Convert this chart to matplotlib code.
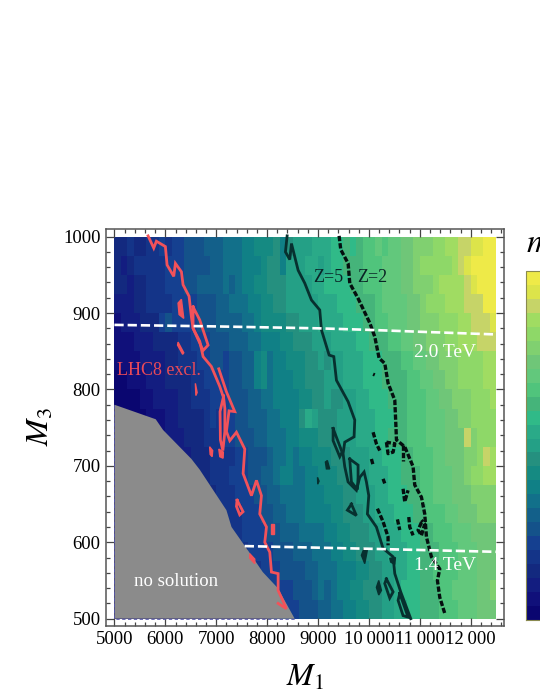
import matplotlib
matplotlib.use('Agg')
import matplotlib.pyplot as plt
import numpy as np
from matplotlib.colors import ListedColormap, BoundaryNorm
from matplotlib.patches import Polygon

plt.rcParams['font.family'] = ['Liberation Serif', 'DejaVu Sans']
plt.rcParams['mathtext.fontset'] = 'stix'

# colour bands of the legend, bottom to top
band_colors = ['#0a0670', '#10107a', '#131d80', '#13297f', '#143488', '#154090', '#14528a',
               '#13608a', '#12708a', '#108086', '#158a82', '#25907f', '#24a086', '#2aaa88',
               '#30ba88', '#45b47a', '#50c47c', '#62c87c', '#6fc678', '#80d070', '#8ed868',
               '#a0dc62', '#c6d468', '#dce44a', '#eeea48']

# cell edges
m1_edges = list(range(5000, 12501, 125))
m3_edges = list(range(500, 1001, 25))

# band number of each cell, top row (M3 975-1000) first
levels = [
    [3,3,4,3,3,4,4,5,4,5, 5,6,6,6,7,7,7,8,8,8, 9,9,10,10,10,11,9,11,12,12, 12,13,13,13,14,14,15,14,15,16, 16,17,16,17,17,18,18,19,19,19, 20,20,21,21,22,22,23,23,24,24],
    [3,2,3,4,4,4,4,4,5,5, 5,6,6,6,6,7,7,8,8,8, 9,9,9,10,11,11,9,12,12,12, 13,13,12,13,14,14,15,15,15,16, 16,16,17,17,17,18,18,19,20,20, 20,20,20,21,22,23,24,24,24,24],
    [3,3,2,3,3,4,4,4,5,5, 5,6,6,7,7,7,7,8,7,8, 9,9,10,10,11,11,11,12,12,12, 12,13,13,14,14,14,14,15,15,16, 16,16,17,17,17,18,18,19,19,19, 20,21,21,21,21,22,23,24,24,24],
    [2,2,2,3,3,4,4,4,4,5, 5,5,5,6,6,6,7,7,8,8, 8,9,9,10,10,11,11,12,12,12, 12,12,13,13,13,14,14,14,15,15, 15,16,17,17,17,17,18,18,19,20, 20,20,21,21,21,22,22,22,24,24],
    [1,2,2,2,3,3,3,5,6,5, 5,5,5,6,6,6,7,7,7,7, 8,8,9,10,10,10,10,11,11,12, 12,12,13,13,13,13,14,14,14,15, 15,16,16,17,17,17,18,18,19,19, 19,20,20,20,21,21,22,22,22,23],
    [1,1,1,2,2,2,3,3,3,3, 4,4,5,5,5,6,6,6,7,7, 7,8,8,9,9,9,10,10,11,11, 11,12,12,12,13,13,13,13,14,14, 15,15,15,16,16,17,17,18,18,19, 19,19,20,20,21,21,21,22,22,22],
    [1,1,1,1,2,2,2,2,3,3, 4,4,4,5,5,6,6,5,6,6, 7,7,9,10,8,9,9,10,10,10, 11,11,12,11,12,12,13,13,13,14, 14,14,15,15,15,16,16,17,17,18, 18,19,19,19,20,20,20,20,21,21],
    [0,0,1,1,1,2,2,2,3,3, 3,3,4,4,5,5,5,5,6,6, 7,7,9,10,8,9,9,9,10,10, 11,11,11,12,12,12,13,13,13,14, 14,14,15,15,15,15,16,16,17,17, 18,18,19,19,20,20,20,20,21,21],
    [0,0,0,0,1,1,2,2,2,2, 3,3,4,4,4,5,5,5,6,6, 6,7,7,8,8,9,9,9,9,10, 10,11,11,12,11,11,12,12,13,13, 14,14,14,15,15,15,16,16,16,17, 17,18,18,19,19,19,20,20,20,21],
    [0,0,0,0,0,1,1,1,2,2, 3,3,3,3,4,5,4,5,5,6, 6,7,7,7,8,8,9,9,9,11, 13,12,11,11,11,12,12,12,13,13, 13,14,14,14,15,15,16,16,16,17, 17,17,18,18,19,19,20,20,20,20],
    [0,0,0,0,1,1,1,1,2,2, 2,3,3,3,4,4,4,5,5,6, 6,6,7,7,8,8,8,9,9,10, 10,10,11,11,11,12,12,12,13,13, 13,14,14,15,15,15,16,16,16,17, 17,17,18,18,18,22,19,20,20,20],
    [0,0,0,0,1,1,1,1,1,2, 2,2,3,3,3,4,4,4,4,5, 5,6,6,6,7,8,8,9,8,9, 9,10,10,10,11,11,11,12,12,12, 13,13,14,14,14,15,15,16,16,16, 17,17,18,18,18,19,19,20,22,21],
    [0,0,0,0,0,0,1,1,1,1, 2,2,3,3,3,4,4,4,5,5, 5,6,6,7,7,8,9,9,8,8, 9,9,10,10,10,11,11,12,12,12, 13,13,13,14,14,15,15,15,16,16, 17,17,17,18,18,19,20,20,21,21],
    [0,0,0,0,0,0,0,1,1,1, 1,2,2,3,3,3,4,4,4,5, 5,5,6,6,7,7,8,8,8,8, 9,9,9,10,10,10,11,11,12,12, 12,13,13,14,14,14,15,15,16,16, 17,17,17,18,18,18,19,19,19,19],
    [0,0,0,0,0,0,0,0,0,1, 1,1,2,2,3,3,4,4,4,4, 5,5,5,6,6,7,7,8,8,8, 9,9,9,9,10,10,11,11,11,12, 12,13,13,13,14,14,14,15,15,16, 16,16,17,17,18,18,18,19,19,19],
    [0,0,0,0,0,0,0,0,0,0, 0,1,1,2,3,3,3,4,4,4, 5,5,5,5,6,6,7,7,7,8, 8,8,8,9,9,10,10,11,11,11, 12,12,13,13,13,14,14,14,15,15, 16,16,16,17,17,17,18,18,18,18],
    [0,0,0,0,0,0,0,0,0,0, 0,0,2,3,3,3,3,3,4,4, 4,5,5,5,5,6,6,6,7,7, 7,8,8,8,9,9,10,10,11,11, 11,12,12,13,13,13,14,14,15,15, 15,16,16,16,17,17,17,18,18,18],
    [0,0,0,0,0,0,0,0,0,0, 0,0,0,0,0,0,0,0,3,4, 4,4,4,5,5,5,6,6,6,6, 7,7,8,8,8,9,9,9,10,10, 11,11,12,12,13,13,14,14,15,15, 16,16,16,16,17,17,17,18,18,18],
    [0,0,0,0,0,0,0,0,0,0, 0,0,0,0,0,0,0,0,0,0, 3,4,4,4,5,5,5,5,6,6, 6,7,8,7,8,9,9,10,10,11, 11,11,12,12,13,14,14,14,15,15, 15,16,16,17,17,17,17,18,18,19],
    [0,0,0,0,0,0,0,0,0,0, 0,0,0,0,0,0,0,0,0,0, 0,0,0,0,3,4,5,5,5,6, 6,6,7,7,8,8,9,9,10,10, 11,11,12,12,13,13,14,14,15,15, 15,16,16,16,17,17,17,18,18,18],
]

# no solution region
gray_region = [(5000, 780), (5811, 761), (5955, 747), (6513, 709), (6676, 695), (7200, 642),
               (7300, 620), (7658, 586), (7914, 561), (8210, 540), (8541, 500), (5000, 500)]

# LHC8 exclusion contours
lhc_lines = [
    [(5661, 1001), (5772, 985), (5824, 994), (6001, 987), (6034, 963), (6165, 948), (6198, 965),
     (6316, 954), (6348, 937), (6466, 922), (6512, 895), (6545, 880), (6676, 863), (6742, 843),
     (6905, 830), (7069, 804), (7140, 790), (7075, 771), (7082, 734), (7130, 720), (7170, 745),
     (7170, 775), (7140, 792)],
    [(7050, 827), (7200, 797), (7364, 771), (7252, 772), (7200, 745), (7266, 733), (7397, 744),
     (7561, 722), (7528, 690), (7692, 661), (7790, 681), (7888, 661), (7855, 637), (7987, 620),
     (7954, 600), (8052, 587), (8085, 561), (8216, 559), (8216, 537), (8380, 513), (8216, 520)],
    [(6545, 908), (6676, 891), (6840, 858), (6742, 851), (6545, 880), (6545, 908)],
    [(7410, 655), (7527, 640), (7462, 636), (7397, 647), (7410, 655)],
]
lhc_blobs = [
    [(6316, 918), (6362, 893), (6270, 898), (6250, 913)],
    [(6250, 862), (6362, 848), (6340, 846), (6240, 858)],
    [(6590, 808), (6625, 796), (6600, 792)],
    [(6870, 725), (6930, 720), (6920, 712), (6880, 715)],
    [(7050, 722), (7140, 718), (7135, 710), (7070, 712)],
    [(8075, 624), (8135, 624), (8135, 611), (8075, 611)],
    [(7659, 585), (7757, 578), (7757, 572), (7659, 579)],
]

# Z=5 contours
z5_lines = [
    [(8393, 1001), (8360, 980), (8445, 970), (8478, 991), (8609, 956), (8740, 939), (8871, 917),
     (9034, 904), (9067, 878), (9218, 845), (9310, 843), (9362, 812), (9591, 784), (9722, 760),
     (9708, 738), (9525, 731), (9492, 716), (9525, 699), (9590, 679), (9754, 668), (9820, 685),
     (9905, 692), (9951, 679), (9997, 661), (9970, 637), (10147, 620), (10278, 592), (10475, 581),
     (10508, 559), (10625, 535), (10822, 500)],
    [(9296, 749), (9473, 718), (9427, 712), (9296, 733), (9296, 749)],
    [(9623, 709), (9787, 701), (9787, 685), (9774, 669), (9656, 679), (9623, 709)],
    [(9656, 650), (9754, 635), (9577, 642), (9656, 650)],
    [(10344, 552), (10475, 535), (10409, 527), (10311, 546), (10344, 552)],
    [(10606, 533), (10770, 502), (10671, 504), (10573, 524), (10606, 533)],
]
z5_blobs = [
    [(9184, 707), (9230, 696), (9165, 696), (9145, 705)],
    [(8990, 685), (9020, 680), (8995, 676)],
    [(9905, 592), (9970, 590), (9918, 572), (9852, 583)],
    [(10409, 579), (10521, 580), (10508, 571), (10429, 574)],
    [(10193, 550), (10246, 537), (10193, 531), (10147, 541)],
]

# Z=2 contours
z2_lines = [
    [(9414, 1001), (9447, 983), (9591, 965), (9624, 939), (9788, 919), (10017, 887), (10115, 869),
     (10200, 841), (10312, 834), (10377, 808), (10508, 786), (10528, 756), (10541, 734),
     (10704, 725), (10868, 699), (10900, 675), (11032, 659), (11097, 637), (11130, 607),
     (11228, 581), (11392, 565), (11346, 550), (11392, 528), (11490, 507)],
    [(10082, 744), (10147, 729), (10213, 720)],
    [(10049, 709), (10082, 701)],
    [(10278, 683), (10311, 677)],
    [(10671, 670), (10704, 653), (10769, 668)],
    [(10167, 644), (10278, 627), (10376, 607), (10376, 596)],
    [(10560, 630), (10606, 616)],
    [(10783, 633), (10802, 620), (10868, 609)],
    [(11032, 626), (10966, 616), (11032, 609), (11097, 624), (11032, 629)],
    [(10344, 731), (10376, 716), (10475, 718), (10508, 729), (10344, 731)],
    [(10671, 727), (10671, 707)],
    [(10082, 820), (10115, 819)],
]

# white lines of constant mass
line_20_m1 = [5000, 7000, 9000, 10000, 11000, 12500]
line_20_m3 = [884.5, 882.5, 880, 878, 875.5, 872]
line_14_m1 = [7560, 10000, 12500]
line_14_m3 = [595, 591.5, 587.5]

x_major = [5000, 6000, 7000, 8000, 9000, 10000, 11000, 12000]
x_labels = ['5000', '6000', '7000', '8000', '9000', '10\u2009000', '11\u2009000', '12\u2009000']
y_major = [500, 600, 700, 800, 900, 1000]

W, H = 540, 699
fig = plt.figure(figsize=(W / 100, H / 100), dpi=100)
ax = fig.add_axes([106.3 / W, 1 - 625.7 / H, 398 / W, 396.7 / H])

cmap = ListedColormap(band_colors)
norm = BoundaryNorm(np.arange(-0.5, len(band_colors)), cmap.N)
mesh = ax.pcolormesh(m1_edges, m3_edges, np.array(levels)[::-1], cmap=cmap, norm=norm)

ax.add_patch(Polygon(gray_region, closed=True, fc='#8b8b8b', ec='none', zorder=2))
ax.plot([5000, 5000, 8541], [780, 500, 500], color='#5555aa', lw=0.6, ls=(0, (4, 3)), zorder=3)

for seg in lhc_lines:
    xs, ys = zip(*seg)
    ax.plot(xs, ys, color='#f2525a', lw=2.0, solid_joinstyle='miter', zorder=4)
for blob in lhc_blobs:
    xs, ys = zip(*blob)
    ax.fill(xs, ys, fc='#f2525a', ec='#f2525a', lw=1.0, zorder=4)
for seg in z5_lines:
    xs, ys = zip(*seg)
    ax.plot(xs, ys, color='#07302f', lw=2.0, solid_joinstyle='miter', zorder=4)
for blob in z5_blobs:
    xs, ys = zip(*blob)
    ax.fill(xs, ys, fc='#07302f', ec='#07302f', lw=1.0, zorder=4)
for seg in z2_lines:
    xs, ys = zip(*seg)
    ax.plot(xs, ys, color='#050f0f', lw=2.4, ls=(0, (1.6, 0.6)), zorder=4)

ax.plot(line_20_m1, line_20_m3, color='white', lw=1.9, ls=(0, (3.5, 1.5)), zorder=5)
ax.plot(line_14_m1, line_14_m3, color='white', lw=1.9, ls=(0, (3.5, 1.5)), zorder=5)

ax.text(5050, 825, 'LHC8 excl.', color='#ea4a58', fontsize=13, ha='left', va='center', zorder=6)
ax.text(6218, 549, 'no solution', color='white', fontsize=13.5, ha='center', va='center', zorder=6)
ax.text(11490, 849, '2.0 TeV', color='white', fontsize=14, ha='center', va='center', zorder=6)
ax.text(11500, 569, '1.4 TeV', color='white', fontsize=14, ha='center', va='center', zorder=6)
ax.text(9194, 946, 'Z=5', color='#0a2426', fontsize=13, ha='center', va='center', zorder=6)
ax.text(10075, 946, 'Z=2', color='#0a2426', fontsize=13, ha='center', va='center', zorder=6)

ax.set_xlim(4840, 12660)
ax.set_ylim(490.8, 1010)
ax.set_xticks(x_major)
ax.set_xticklabels(x_labels)
ax.set_yticks(y_major)
ax.set_xticks(np.arange(4800, 12700, 200)[1:], minor=True)
ax.set_yticks(np.arange(500, 1001, 20), minor=True)
ax.tick_params(which='both', direction='in', top=True, right=True, color='#444444', width=0.9)
ax.tick_params(which='major', length=5.5, labelsize=13.5, pad=4)
ax.tick_params(which='minor', length=3.2)
for spine in ax.spines.values():
    spine.set_color('#555555')
    spine.set_linewidth(1.1)

fig.text(305 / W, 1 - 678 / H, '$M_1$', fontsize=23, ha='center', va='center')
fig.text(41 / W, 1 - 427 / H, '$M_3$', fontsize=23, rotation=90, ha='center', va='center')
fig.text(526 / W, 1 - 252 / H, '$m$', fontsize=24, ha='left', va='baseline')

cax = fig.add_axes([526 / W, 1 - 620 / H, 16 / W, 349 / H])
cb = fig.colorbar(mesh, cax=cax, ticks=[], drawedges=False)
cb.outline.set_edgecolor('#8a8a50')
cb.outline.set_linewidth(0.8)
cax.minorticks_off()

fig.savefig('out.png', dpi=100)
